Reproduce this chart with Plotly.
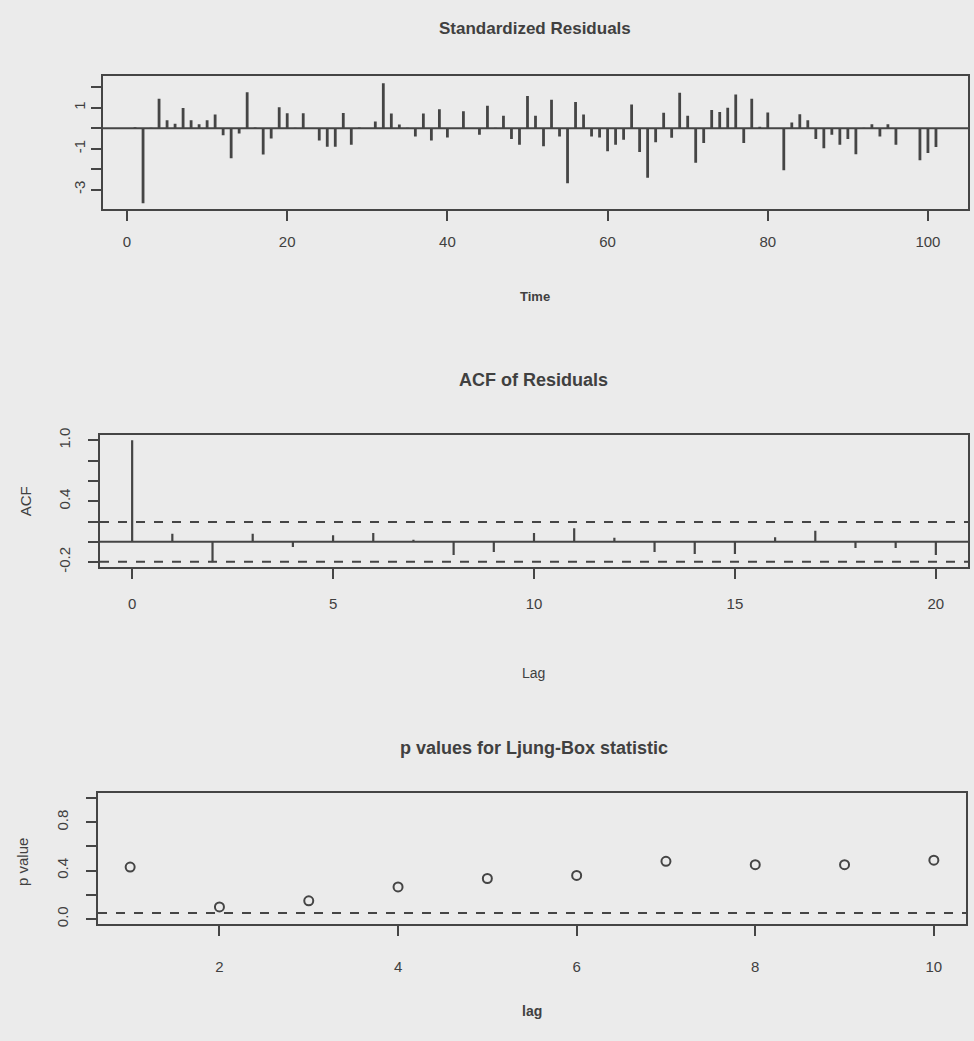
import plotly.graph_objects as go

# ---------------- data ----------------
time_idx = list(range(1, 102))
std_resid = [0.05, -3.66, 0.03, 1.45, 0.4, 0.22, 0.99, 0.4, 0.2, 0.4,
             0.68, -0.34, -1.47, -0.25, 1.76, 0.04, -1.28, -0.5, 1.03, 0.74,
             0.03, 0.74, -0.03, -0.6, -0.9, -0.9, 0.75, -0.8, 0.04, -0.02,
             0.33, 2.2, 0.73, 0.19, 0.03, -0.4, 0.73, -0.6, 0.93, -0.45,
             0.02, 0.84, -0.03, -0.31, 1.1, 0.03, 0.62, -0.52, -0.8, 1.58,
             0.62, -0.88, 1.4, -0.4, -2.69, 1.29, 0.68, -0.4, -0.45, -1.12,
             -0.8, -0.56, 1.16, -1.16, -2.42, -0.68, 0.76, -0.46, 1.74, 0.61,
             -1.69, -0.72, 0.9, 0.8, 1.01, 1.66, -0.72, 1.45, 0.08, 0.77,
             0.02, -2.05, 0.29, 0.69, 0.4, -0.52, -0.97, -0.31, -0.8, -0.52,
             -1.27, 0.03, 0.2, -0.4, 0.2, -0.8, 0.02, -0.03, -1.56, -1.21,
             -0.92]

acf_lags = list(range(0, 21))
acf_vals = [1.0, 0.08, -0.2, 0.08, -0.05, 0.065, 0.087, 0.02, -0.13, -0.1,
            0.087, 0.135, 0.04, -0.1, -0.12, -0.12, 0.045, 0.11, -0.06, -0.06,
            -0.13]
acf_clim = 0.195

lb_lags = list(range(1, 11))
lb_pvals = [0.43, 0.10, 0.15, 0.265, 0.335, 0.36, 0.477, 0.449, 0.449, 0.487]
lb_level = 0.05

# ---------------- style ----------------
W, H = 974, 1041
BG = "#ebebeb"
INK = "#454545"
TXT = "#404040"
FONT = "Liberation Sans"


def px_dom_x(a, b):
    return [a / W, b / W]


def px_dom_y(top, bottom):
    return [1 - bottom / H, 1 - top / H]


def spikes(xs, ys):
    sx, sy = [], []
    for x, y in zip(xs, ys):
        sx += [x, x, None]
        sy += [0, y, None]
    return sx, sy


fig = go.Figure()

# Panel 1: standardized residuals
sx, sy = spikes(time_idx, std_resid)
fig.add_trace(go.Scatter(x=sx, y=sy, mode="lines", line=dict(color=INK, width=2.8),
                         xaxis="x", yaxis="y", showlegend=False, hoverinfo="skip"))
fig.add_trace(go.Scatter(x=[-3, 105], y=[0, 0], mode="lines", line=dict(color=INK, width=2),
                         xaxis="x", yaxis="y", showlegend=False, hoverinfo="skip"))

# Panel 2: ACF
sx, sy = spikes(acf_lags, acf_vals)
fig.add_trace(go.Scatter(x=sx, y=sy, mode="lines", line=dict(color=INK, width=2.2),
                         xaxis="x2", yaxis="y2", showlegend=False, hoverinfo="skip"))
fig.add_trace(go.Scatter(x=[-0.8, 20.8], y=[0, 0], mode="lines", line=dict(color=INK, width=2),
                         xaxis="x2", yaxis="y2", showlegend=False, hoverinfo="skip"))
for c in (acf_clim, -acf_clim):
    fig.add_trace(go.Scatter(x=[-0.8, 20.8], y=[c, c], mode="lines",
                             line=dict(color=INK, width=2, dash="dash"),
                             xaxis="x2", yaxis="y2", showlegend=False, hoverinfo="skip"))

# Panel 3: Ljung-Box p values
fig.add_trace(go.Scatter(x=lb_lags, y=lb_pvals, mode="markers",
                         marker=dict(symbol="circle-open", size=9, color=INK, line=dict(width=2, color=INK)),
                         xaxis="x3", yaxis="y3", showlegend=False, hoverinfo="skip"))
fig.add_trace(go.Scatter(x=[0.64, 10.36], y=[lb_level, lb_level], mode="lines",
                         line=dict(color=INK, width=2, dash="dash"),
                         xaxis="x3", yaxis="y3", showlegend=False, hoverinfo="skip"))

axis_common = dict(showgrid=False, zeroline=False, showline=True, linecolor=INK, linewidth=2,
                   mirror=True, ticks="outside", ticklen=10, tickwidth=2, tickcolor=INK,
                   tickfont=dict(family=FONT, size=15, color=TXT))

fig.update_layout(
    width=W, height=H,
    paper_bgcolor=BG, plot_bgcolor=BG,
    margin=dict(l=0, r=0, t=0, b=0),
    xaxis=dict(axis_common, domain=px_dom_x(103, 968), range=[-3, 105],
               tickvals=[0, 20, 40, 60, 80, 100], anchor="y", ticklabelstandoff=8),
    yaxis=dict(axis_common, domain=px_dom_y(70, 204), range=[-3.93, 2.55],
               tickvals=[-3, -2, -1, 0, 1, 2], ticktext=["-3", "", "-1", "", "1", ""],
               tickangle=-90, anchor="x", ticklabelstandoff=0),
    xaxis2=dict(axis_common, domain=px_dom_x(100, 968), range=[-0.8, 20.8],
                tickvals=[0, 5, 10, 15, 20], anchor="y2", ticklabelstandoff=12),
    yaxis2=dict(axis_common, domain=px_dom_y(433, 567), range=[-0.252, 1.052],
                tickvals=[-0.2, 0, 0.2, 0.4, 0.6, 0.8, 1.0],
                ticktext=["-0.2", "", "", "0.4", "", "", "1.0"],
                tickangle=-90, anchor="x2", ticklabelstandoff=12),
    xaxis3=dict(axis_common, domain=px_dom_x(98, 966), range=[0.64, 10.36],
                tickvals=[2, 4, 6, 8, 10], anchor="y3", ticklabelstandoff=18),
    yaxis3=dict(axis_common, domain=px_dom_y(795, 928), range=[-0.044, 1.044],
                tickvals=[0, 0.2, 0.4, 0.6, 0.8, 1.0],
                ticktext=["0.0", "", "0.4", "", "0.8", ""],
                tickangle=-90, anchor="x3", ticklabelstandoff=12),
)

def ann(text, x, y, size=15, bold=False, angle=0):
    fig.add_annotation(text=f"<b>{text}</b>" if bold else text,
                       x=x / W, y=1 - y / H, xref="paper", yref="paper",
                       showarrow=False, textangle=angle,
                       font=dict(family=FONT, size=size, color=TXT),
                       xanchor="center", yanchor="middle")

ann("Standardized Residuals", 535, 22, size=17, bold=True)
ann("Time", 535, 293, size=13, bold=True)
ann("ACF of Residuals", 533, 377, size=18, bold=True)
ann("Lag", 533, 674, size=14)
ann("ACF", 25, 500, size=15, angle=-90)
ann("p values for Ljung-Box statistic", 534, 750, size=18, bold=True)
ann("lag", 532, 1016, size=14, bold=True)
ann("p value", 22, 865, size=15, angle=-90)

fig.write_html("out.html")
